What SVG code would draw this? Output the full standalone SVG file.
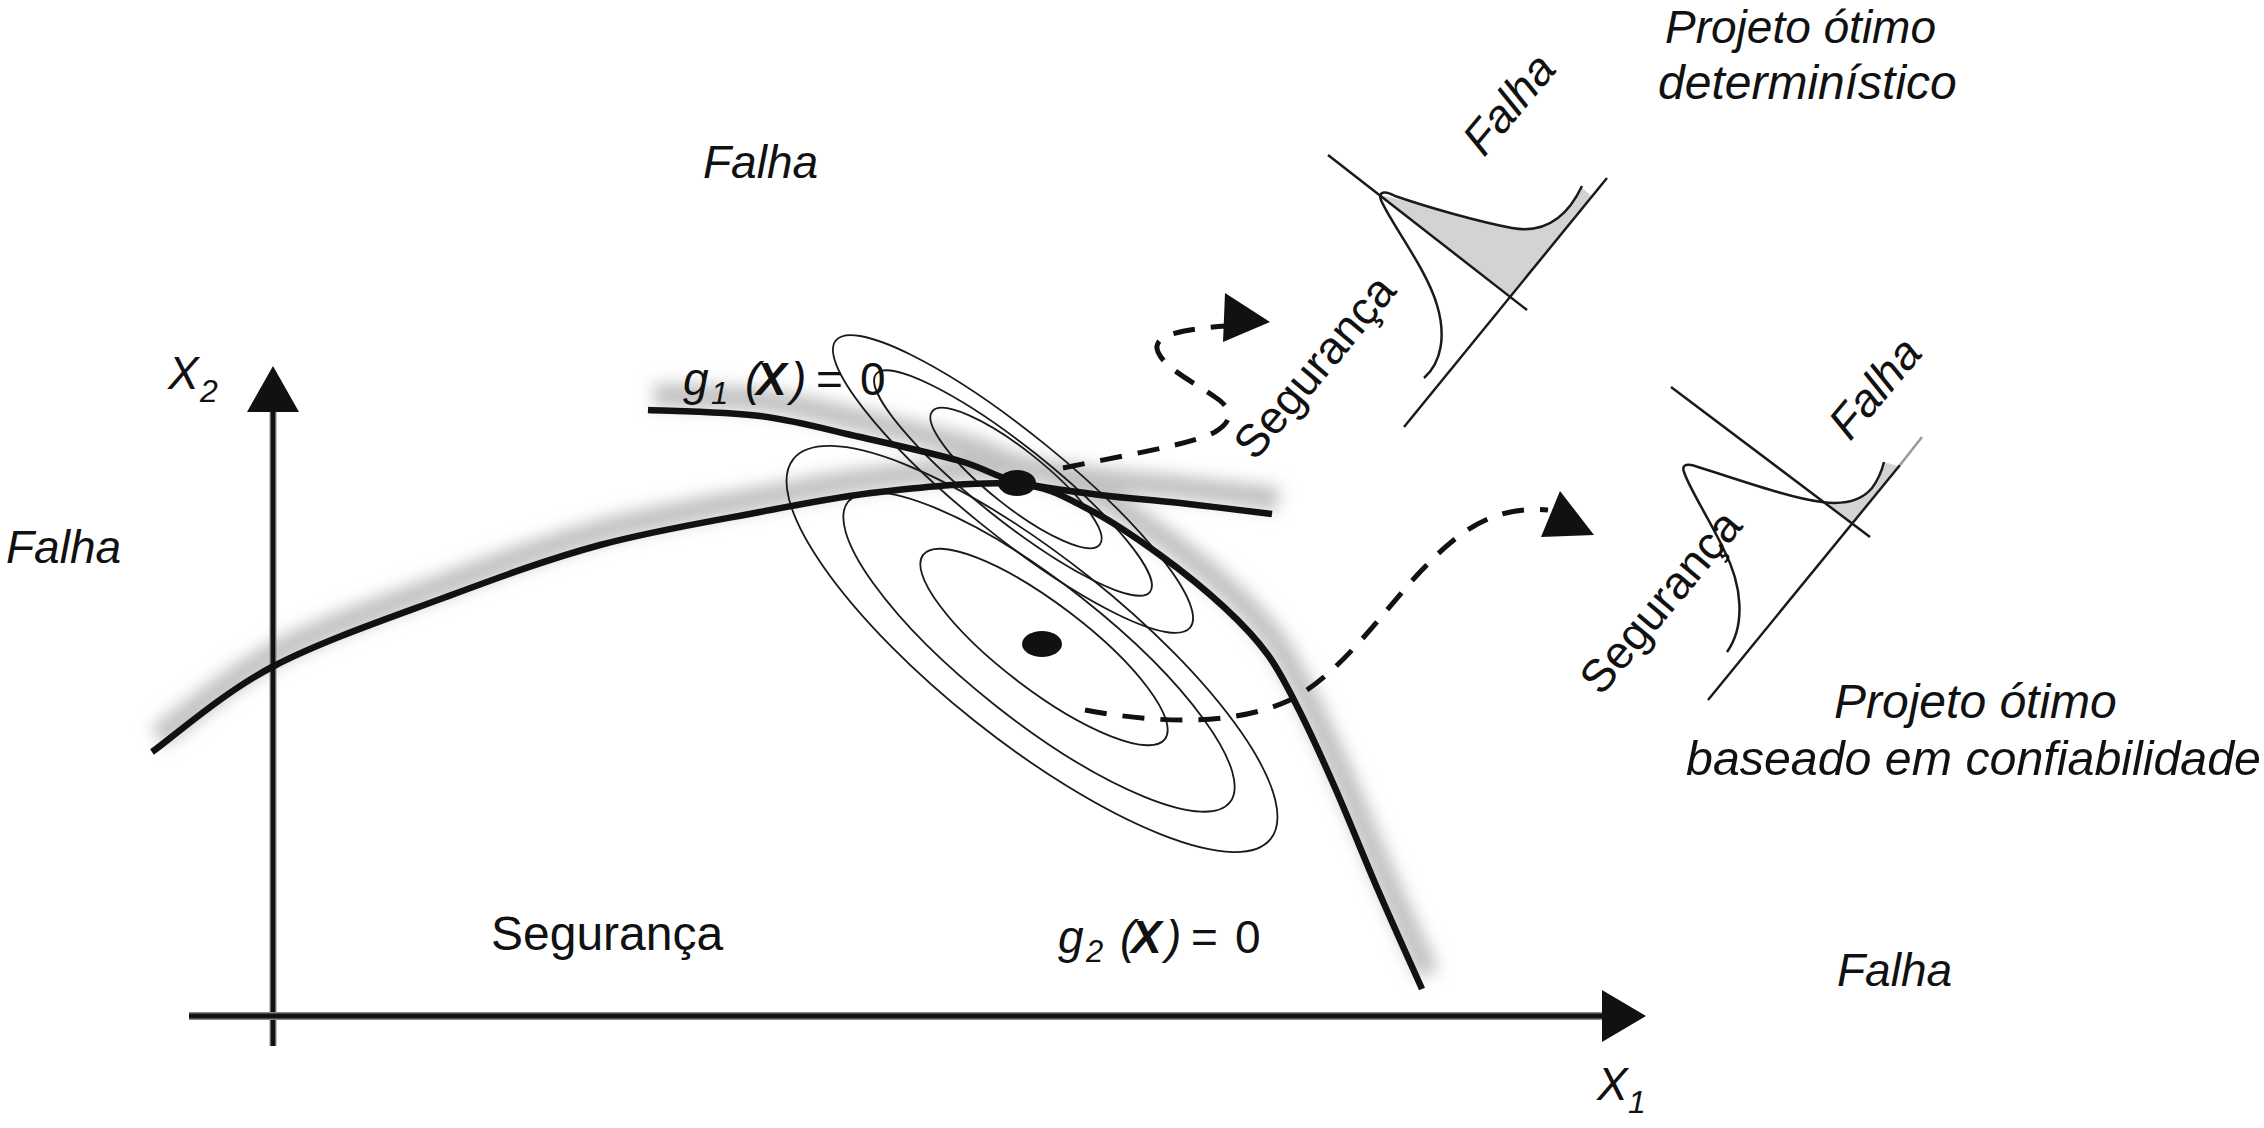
<svg xmlns="http://www.w3.org/2000/svg" width="2264" height="1128" viewBox="0 0 2264 1128">
<defs>
<style>
text { font-family: "Liberation Sans", Arial, Helvetica, sans-serif; font-size: 46px; fill: #111; }
.it { font-style: italic; }
.up { font-style: normal; }
.big { font-size: 48px; }
.ell { fill: none; stroke: #1a1a1a; stroke-width: 1.8; }
.curve { fill: none; stroke: #111; stroke-width: 6.5; }
.shadow { fill: none; stroke: #c2c2c2; stroke-width: 24; }
.dash { fill: none; stroke: #111; stroke-width: 5; stroke-dasharray: 22 16; }
.thin { fill: none; stroke: #1a1a1a; stroke-width: 2.5; }
.head { fill: #111; }
.shade { fill: #d2d3d5; }
</style>
<filter id="soft" filterUnits="userSpaceOnUse" x="0" y="0" width="2264" height="1128">
<feGaussianBlur stdDeviation="8"/>
</filter>
</defs>
<rect width="2264" height="1128" fill="#ffffff"/>

<g id="shadows" filter="url(#soft)">
<g transform="translate(6,-15)">
<path class="shadow" d="M152,752 C172,737.8 223,692.8 272,667 C321,641.2 391.3,617.3 446,597 C500.7,576.7 547.7,559.2 600,545 C652.3,530.8 713.3,520.8 760,512 C806.7,503.2 837.2,496.7 880,492 C922.8,487.3 982,481 1017,484 C1052,487 1066.2,498.2 1090,510 C1113.8,521.8 1137.5,538.7 1160,555 C1182.5,571.3 1207,591.3 1225,608 C1243,624.7 1255.5,637.7 1268,655 C1280.5,672.3 1288.7,689.5 1300,712 C1311.3,734.5 1323,760.3 1336,790 C1349,819.7 1363.7,856.8 1378,890 C1392.3,923.2 1414.7,972.5 1422,989"/>
<path class="shadow" d="M648,410 C666.7,411 724.7,411.5 760,416 C795.3,420.5 826.7,429.5 860,437 C893.3,444.5 933.8,453.5 960,461 C986.2,468.5 993.7,476.3 1017,482 C1040.3,487.7 1072.8,491.5 1100,495 C1127.2,498.5 1151.3,499.8 1180,503 C1208.7,506.2 1256.7,512.2 1272,514"/>
</g>
</g>

<g id="axes">
<line x1="273" y1="405" x2="273" y2="1046" stroke="#888" stroke-width="7"/>
<line x1="273" y1="405" x2="273" y2="1046" stroke="#111" stroke-width="4.5"/>
<polygon class="head" points="273,366 247,412 299,412"/>
<line x1="189" y1="1016" x2="1610" y2="1016" stroke="#888" stroke-width="8"/>
<line x1="189" y1="1016" x2="1610" y2="1016" stroke="#111" stroke-width="5"/>
<polygon class="head" points="1646,1016 1602,990 1602,1042"/>
</g>

<g id="ellipses">
<ellipse class="ell" cx="1016" cy="478" rx="107" ry="28" transform="rotate(38.5 1016 478)"/>
<ellipse class="ell" cx="1013" cy="483" rx="175" ry="37" transform="rotate(38.5 1013 483)"/>
<ellipse class="ell" cx="1013" cy="484" rx="228" ry="51" transform="rotate(39 1013 484)"/>
<ellipse class="ell" cx="1044" cy="647" rx="152" ry="43" transform="rotate(37.3 1044 647)"/>
<ellipse class="ell" cx="1039" cy="652" rx="243" ry="69" transform="rotate(38.2 1039 652)"/>
<ellipse class="ell" cx="1032" cy="649" rx="305" ry="92" transform="rotate(38.5 1032 649)"/>
</g>

<g id="limit-states">
<path id="g2-curve" class="curve" d="M152,752 C172,737.8 223,692.8 272,667 C321,641.2 391.3,617.3 446,597 C500.7,576.7 547.7,559.2 600,545 C652.3,530.8 713.3,520.8 760,512 C806.7,503.2 837.2,496.7 880,492 C922.8,487.3 982,481 1017,484 C1052,487 1066.2,498.2 1090,510 C1113.8,521.8 1137.5,538.7 1160,555 C1182.5,571.3 1207,591.3 1225,608 C1243,624.7 1255.5,637.7 1268,655 C1280.5,672.3 1288.7,689.5 1300,712 C1311.3,734.5 1323,760.3 1336,790 C1349,819.7 1363.7,856.8 1378,890 C1392.3,923.2 1414.7,972.5 1422,989"/>
<path id="g1-curve" class="curve" d="M648,410 C666.7,411 724.7,411.5 760,416 C795.3,420.5 826.7,429.5 860,437 C893.3,444.5 933.8,453.5 960,461 C986.2,468.5 993.7,476.3 1017,482 C1040.3,487.7 1072.8,491.5 1100,495 C1127.2,498.5 1151.3,499.8 1180,503 C1208.7,506.2 1256.7,512.2 1272,514"/>
</g>

<g id="design-point"><ellipse cx="1017" cy="483" rx="19" ry="13" fill="#111"/></g>
<g id="mean-point"><ellipse cx="1042" cy="644" rx="20" ry="13" fill="#111"/></g>

<g id="connectors">
<path class="dash" d="M1063,468 C1120,456 1190,445 1215,432 C1235,420 1232,408 1215,397 C1190,380 1165,368 1158,352 C1152,338 1170,330 1226,326"/>
<polygon class="head" points="1225,293 1270,322 1223,342"/>
<path class="dash" d="M1085,710 C1150,722 1230,728 1290,700 C1340,675 1380,615 1420,572 C1455,535 1490,505 1548,510"/>
<polygon class="head" points="1560,491 1594,535 1541,537"/>
</g>

<g id="pdf-deterministic">
<path class="shade" d="M1380,195 C1410,201 1470,219 1512,228 C1540,233 1565,222 1582,188 L1592,196 L1511,296 Z"/>
<line class="thin" x1="1328" y1="155" x2="1527" y2="310"/>
<line class="thin" x1="1404" y1="427" x2="1607" y2="178"/>
<path class="thin" d="M1424,378 C1442,362 1446,335 1437,305 C1426,268 1390,222 1381,200 C1378,192 1384,190 1395,196 C1430,208 1480,222 1512,228 C1540,233 1565,222 1582,186"/>
</g>

<g id="pdf-reliability">
<path class="shade" d="M1822,502 C1845,505 1862,500 1872,488 C1878,480 1882,470 1884,462 L1898,466 L1851,523 Z"/>
<line class="thin" x1="1671" y1="387" x2="1870" y2="537"/>
<line class="thin" x1="1708" y1="700" x2="1900" y2="465"/>
<line x1="1900" y1="465" x2="1922" y2="437" stroke="#999" stroke-width="2.5"/>
<path class="thin" d="M1727,652 C1746,625 1742,585 1724,550 C1710,520 1690,490 1684,472 C1681,464 1688,463 1698,467 C1740,480 1790,498 1822,502 C1845,505 1862,500 1872,488 C1878,480 1882,470 1884,462"/>
</g>

<g id="labels">
<text class="it" x="1665" y="43">Projeto ótimo</text>
<text class="it big" x="1658" y="99">determinístico</text>
<text class="it" x="703" y="178">Falha</text>
<text class="it" x="6" y="563">Falha</text>
<text class="big" x="491" y="950">Segurança</text>
<text class="it" x="1837" y="986">Falha</text>
<text class="it big" x="1834" y="718">Projeto ótimo</text>
<text class="it big" x="1686" y="775" textLength="575" lengthAdjust="spacingAndGlyphs">baseado em confiabilidade</text>
<text class="it" x="168" y="389">X<tspan x="200" y="402" font-size="32">2</tspan></text>
<text class="it" x="1597" y="1100">X<tspan x="1628" y="1113" font-size="32">1</tspan></text>
<text class="it" y="395"><tspan x="683">g</tspan><tspan x="711" y="404" font-size="31">1</tspan><tspan x="745" y="395">(</tspan><tspan x="756" font-weight="bold">X</tspan><tspan x="791">)</tspan><tspan x="816" class="up">=</tspan><tspan x="860" class="up">0</tspan></text>
<text class="it" y="953"><tspan x="1058">g</tspan><tspan x="1086" y="962" font-size="31">2</tspan><tspan x="1120" y="953">(</tspan><tspan x="1131" font-weight="bold">X</tspan><tspan x="1166">)</tspan><tspan x="1191" class="up">=</tspan><tspan x="1235" class="up">0</tspan></text>
<text transform="translate(1255,462) rotate(-50)">Segurança</text>
<text transform="translate(1601,697) rotate(-50)">Segurança</text>
<text class="it" transform="translate(1484,158) rotate(-50)">Falha</text>
<text class="it" transform="translate(1850,442) rotate(-50)">Falha</text>
</g>
</svg>
